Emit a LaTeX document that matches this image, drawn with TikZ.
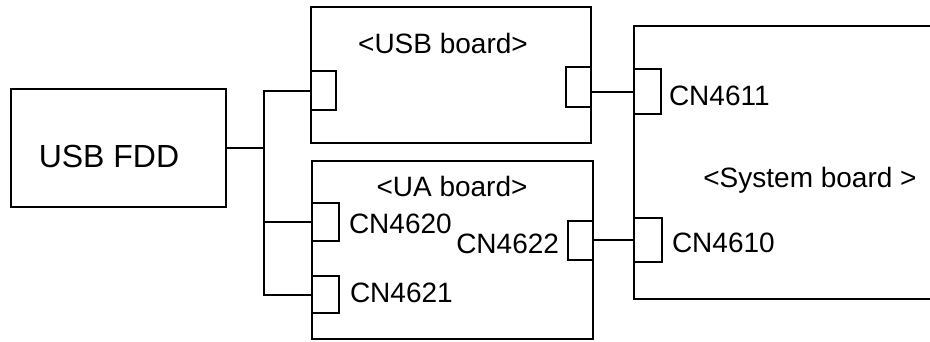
\documentclass[tikz,border=0pt]{standalone}
\usepackage{fontspec}
\setmainfont{Liberation Sans}
\begin{document}
\begin{tikzpicture}[x=1pt,y=-1pt,line width=2pt,
  board/.style={draw,rectangle,inner sep=0pt},
  conn/.style={draw,rectangle,inner sep=0pt,fill=white},
  lbl/.style={inner sep=0pt,font=\fontsize{28}{30}\selectfont},
  biglbl/.style={inner sep=0pt,font=\fontsize{32}{34}\selectfont},
  wire/.style={line width=2pt}]
\clip (0,0) rectangle (930,341);
% boards
\node[board,minimum width=215pt,minimum height=118pt] (fdd) at (118.5,148) {};
\node[board,minimum width=280pt,minimum height=136pt] (usb) at (451,75) {};
\node[board,minimum width=281pt,minimum height=178pt] (ua) at (452.5,250) {};
\node[board,minimum width=366pt,minimum height=273pt] (sys) at (817,162.5) {};
% connectors
\node[conn,minimum width=25pt,minimum height=39pt] (u1) at (323.5,90.5) {};
\node[conn,minimum width=25pt,minimum height=40pt] (u2) at (578.5,87) {};
\node[conn,minimum width=27pt,minimum height=45pt] (s1) at (647.5,91.5) {};
\node[conn,minimum width=28pt,minimum height=44pt] (s2) at (648,240) {};
\node[conn,minimum width=27pt,minimum height=38pt] (a1) at (325.5,222) {};
\node[conn,minimum width=27pt,minimum height=37pt] (a2) at (325.5,294.5) {};
\node[conn,minimum width=25pt,minimum height=39pt] (a3) at (580.5,240) {};
% labels
\node[biglbl,anchor=base] (tfdd) at (109,167) {USB FDD};
\node[lbl,anchor=base] (tusb) at (443,53) {<USB board>};
\node[lbl,anchor=base] (tua) at (452,196) {<UA board>};
\node[lbl,anchor=base] (tsys) at (810,187) {<System board >};
\node[lbl,anchor=base west] (t4611) at (668,105) {CN4611};
\node[lbl,anchor=base west] (t4610) at (671,252) {CN4610};
\node[lbl,anchor=base west] (t4620) at (348,233) {CN4620};
\node[lbl,anchor=base west] (t4621) at (349,302) {CN4621};
\node[lbl,anchor=base east] (t4622) at (560,253) {CN4622};
% trunk
\coordinate (trunk) at (264,89);
\draw[wire] (fdd.east) -- (fdd.east -| trunk);
\draw[wire] (u1.west) -- (u1.west -| trunk) -- (a2.west -| trunk) -- (a2.west);
\draw[wire] (a1.west) -- (a1.west -| trunk);
\draw[wire] (u2.east |- s1.west) -- (s1.west);
\draw[wire] (a3.east) -- (s2.west);
\end{tikzpicture}
\end{document}
